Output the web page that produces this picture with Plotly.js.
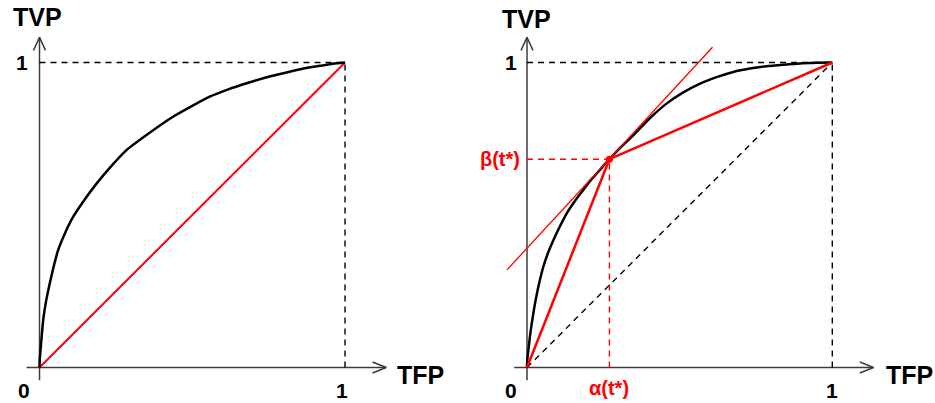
<!DOCTYPE html>
<html>
<head>
<meta charset="utf-8">
<script src="https://cdn.plot.ly/plotly-3.0.1.min.js"></script>
<style>
  html, body { margin: 0; padding: 0; background: #fff; }
  #chart { width: 935px; height: 403px; }
</style>
</head>
<body>
<div id="chart"></div>
<script>
// ROC curve (left panel): false positive rate vs true positive rate
const leftFpr = [0, 0.001, 0.003, 0.007, 0.013, 0.022, 0.033, 0.045, 0.060, 0.082, 0.109, 0.145, 0.186, 0.232,
                 0.284, 0.357, 0.437, 0.497, 0.557, 0.618, 0.678, 0.738, 0.798, 0.858, 0.918, 0.960, 1];
const leftTpr = [0, 0.030, 0.053, 0.100, 0.163, 0.220, 0.273, 0.325, 0.382, 0.437, 0.492, 0.547, 0.602, 0.657,
                 0.712, 0.767, 0.822, 0.856, 0.888, 0.912, 0.932, 0.950, 0.965, 0.979, 0.989, 0.996, 1];

// ROC curve (right panel)
const rightFpr = [0, 0.001, 0.005, 0.010, 0.016, 0.024, 0.033, 0.043, 0.054, 0.069, 0.087, 0.108, 0.131, 0.157,
                  0.185, 0.206, 0.229, 0.250, 0.270, 0.309, 0.349, 0.403, 0.458, 0.512, 0.567, 0.621, 0.676,
                  0.730, 0.785, 0.840, 0.894, 0.950, 1];
const rightTpr = [0, 0.025, 0.060, 0.105, 0.147, 0.197, 0.245, 0.290, 0.332, 0.376, 0.419, 0.463, 0.507, 0.546,
                  0.583, 0.611, 0.637, 0.661, 0.683, 0.724, 0.762, 0.818, 0.866, 0.902, 0.931, 0.952, 0.969,
                  0.980, 0.988, 0.993, 0.997, 0.999, 1];

// chance diagonal
const chanceX = [0, 1];
const chanceY = [0, 1];

// operating point at threshold t*
const alphaStar = 0.270;
const betaStar = 0.683;

// tangent to the curve at the operating point
const tangentX = [-0.0655, 0.6075];
const tangentY = [0.320, 1.050];

// axis labels
const xName = 'TFP';
const yName = 'TVP';
const tickLabels = ['0', '1'];
const alphaLabel = 'α(t*)';
const betaLabel = 'β(t*)';

const RED = '#ff0000';
const AXIS = '#3c3c3c';
const DASH = '6px,5px';

function axisFrame(xa, ya) {
  // axis lines with open chevron heads
  const xEnd = 1.135, yEnd = 1.0825;
  const traces = [];
  const base = { xaxis: xa, yaxis: ya, mode: 'lines', hoverinfo: 'skip', showlegend: false,
                 line: { color: AXIS, width: 1.5 } };
  traces.push(Object.assign({}, base, { x: [-0.042, xEnd], y: [0, 0] }));
  traces.push(Object.assign({}, base, { x: [0, 0], y: [-0.042, yEnd] }));
  traces.push(Object.assign({}, base, { x: [xEnd - 0.045, xEnd, xEnd - 0.045], y: [0.018, 0, -0.018] }));
  traces.push(Object.assign({}, base, { x: [-0.0196, 0, 0.0196], y: [yEnd - 0.0427, yEnd, yEnd - 0.0427] }));
  return traces;
}

function guideLines(xa, ya) {
  const base = { xaxis: xa, yaxis: ya, mode: 'lines', hoverinfo: 'skip', showlegend: false,
                 line: { color: '#000', width: 1.4, dash: DASH } };
  return [
    Object.assign({}, base, { x: [0, 1], y: [1, 1] }),
    Object.assign({}, base, { x: [1, 1], y: [0, 1] })
  ];
}

const traces = [];

// ---- left panel ----
traces.push(...axisFrame('x', 'y'));
traces.push(...guideLines('x', 'y'));
traces.push({ xaxis: 'x', yaxis: 'y', x: chanceX, y: chanceY, mode: 'lines', hoverinfo: 'skip',
  showlegend: false, line: { color: RED, width: 2 } });
traces.push({ xaxis: 'x', yaxis: 'y', x: leftFpr, y: leftTpr, mode: 'lines', hoverinfo: 'skip',
  showlegend: false, line: { color: '#000', width: 2.5, shape: 'spline', smoothing: 0.6 } });

// ---- right panel ----
traces.push(...axisFrame('x2', 'y2'));
traces.push(...guideLines('x2', 'y2'));
traces.push({ xaxis: 'x2', yaxis: 'y2', x: chanceX, y: chanceY, mode: 'lines', hoverinfo: 'skip',
  showlegend: false, line: { color: '#000', width: 1.4, dash: DASH } });
traces.push({ xaxis: 'x2', yaxis: 'y2', x: [0, alphaStar], y: [betaStar, betaStar], mode: 'lines',
  hoverinfo: 'skip', showlegend: false, line: { color: RED, width: 1.4, dash: DASH } });
traces.push({ xaxis: 'x2', yaxis: 'y2', x: [alphaStar, alphaStar], y: [0, betaStar], mode: 'lines',
  hoverinfo: 'skip', showlegend: false, line: { color: RED, width: 1.4, dash: DASH } });
traces.push({ xaxis: 'x2', yaxis: 'y2', x: rightFpr, y: rightTpr, mode: 'lines', hoverinfo: 'skip',
  showlegend: false, line: { color: '#000', width: 2.5, shape: 'spline', smoothing: 0.6 } });
traces.push({ xaxis: 'x2', yaxis: 'y2', x: tangentX, y: tangentY, mode: 'lines', hoverinfo: 'skip',
  showlegend: false, line: { color: RED, width: 1.3 } });
traces.push({ xaxis: 'x2', yaxis: 'y2', x: [0, alphaStar, 1], y: [0, betaStar, 1], mode: 'lines',
  hoverinfo: 'skip', showlegend: false, line: { color: RED, width: 2.5 } });
traces.push({ xaxis: 'x2', yaxis: 'y2', x: [alphaStar], y: [betaStar], mode: 'markers',
  hoverinfo: 'skip', showlegend: false, marker: { color: RED, size: 7 } });

const FONT = 'Liberation Sans, Arial, sans-serif';
function label(xref, yref, x, y, text, size, color, xanchor) {
  return { xref: xref, yref: yref, x: x, y: y, text: '<b>' + text + '</b>', showarrow: false,
           xanchor: xanchor || 'center', yanchor: 'middle',
           font: { family: FONT, size: size, color: color || '#000' } };
}

const annotations = [
  // left
  label('x', 'y', -0.007, 1.149, yName, 25),
  label('x', 'y', 1.248, -0.025, xName, 25),
  label('x', 'y', -0.056, 1.0, tickLabels[1], 21),
  label('x', 'y', -0.050, -0.074, tickLabels[0], 21),
  label('x', 'y', 0.990, -0.074, tickLabels[1], 21),
  // right
  label('x2', 'y2', -0.002, 1.143, yName, 25),
  label('x2', 'y2', 1.254, -0.025, xName, 25),
  label('x2', 'y2', -0.054, 1.0, tickLabels[1], 21),
  label('x2', 'y2', -0.051, -0.074, tickLabels[0], 21),
  label('x2', 'y2', 1.0, -0.074, tickLabels[1], 21),
  label('x2', 'y2', -0.016, betaStar, betaLabel, 20, RED, 'right'),
  label('x2', 'y2', alphaStar, -0.066, alphaLabel, 20, RED)
];

const hidden = { visible: false, fixedrange: true };
const layout = {
  width: 935, height: 403,
  margin: { l: 0, r: 0, t: 0, b: 0 },
  paper_bgcolor: '#fff', plot_bgcolor: '#fff',
  showlegend: false,
  xaxis: Object.assign({ domain: [0, 0.5], range: [-0.1293, 1.401] }, hidden),
  yaxis: Object.assign({ domain: [0, 1], range: [-0.1164, 1.2049] }, hidden),
  xaxis2: Object.assign({ domain: [0.5, 1], range: [-0.1949, 1.3364], anchor: 'y2' }, hidden),
  yaxis2: Object.assign({ domain: [0, 1], range: [-0.1164, 1.2049], anchor: 'x2' }, hidden),
  annotations: annotations
};

Plotly.newPlot('chart', traces, layout, { staticPlot: true, displayModeBar: false });
</script>
</body>
</html>
